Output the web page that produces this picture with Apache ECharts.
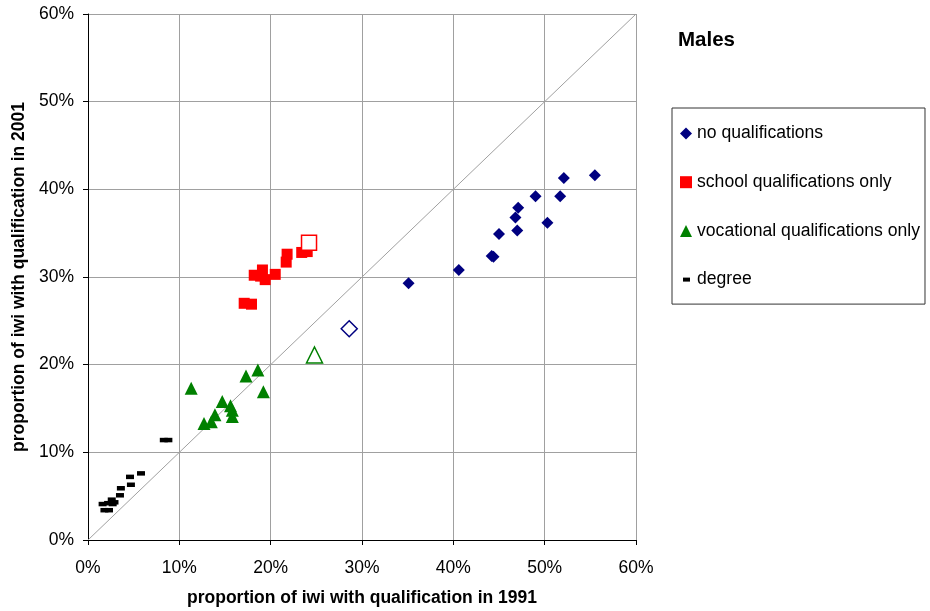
<!DOCTYPE html>
<html>
<head>
<meta charset="utf-8">
<script src="https://cdn.jsdelivr.net/npm/echarts@6/dist/echarts.min.js"></script>
<style>
  html, body { margin: 0; padding: 0; background: #fff; }
  #chart { width: 930px; height: 611px; }
</style>
</head>
<body>
<div id="chart"></div>
<script>
// Share of iwi holding each qualification, 1991 (x) vs 2001 (y), in percent
const seriesNames = ['no qualifications', 'school qualifications only', 'vocational qualifications only', 'degree'];

const noQual1991 = [35.1, 40.6, 44.4, 44.2, 45.0, 47.0, 46.8, 47.1, 49.0, 50.3, 51.7, 52.1, 55.5];
const noQual2001 = [29.3, 30.8, 32.3, 32.4, 34.9, 35.3, 36.8, 37.9, 39.2, 36.2, 39.2, 41.3, 41.6];
const noQualOverall = [28.6, 24.1];

const school1991 = [17.1, 17.9, 18.2, 19.1, 19.4, 20.5, 18.9, 21.8, 21.7, 23.4, 24.0];
const school2001 = [27.0, 26.9, 30.2, 30.8, 29.7, 30.3, 30.1, 32.6, 31.7, 32.8, 32.9];
const schoolOverall = [24.2, 33.9];

const voc1991 = [11.3, 17.3, 18.6, 19.2, 14.7, 15.6, 15.8, 15.8, 13.9, 13.5, 12.7];
const voc2001 = [17.3, 18.7, 19.4, 16.9, 15.8, 15.3, 14.8, 14.1, 14.3, 13.5, 13.3];
const vocOverall = [24.8, 21.1];

const degree1991 = [8.3, 8.8, 5.8, 4.6, 4.7, 3.6, 3.5, 2.6, 2.7, 1.6, 2.2, 2.9, 1.8, 2.3];
const degree2001 = [11.4, 11.4, 7.6, 7.2, 6.3, 5.9, 5.1, 4.6, 4.1, 4.1, 4.2, 4.3, 3.4, 3.4];

const axisTicks = [0, 10, 20, 30, 40, 50, 60];

const FONT = '"Liberation Sans", Arial, sans-serif';

function pairs(xs, ys) {
  return xs.map((x, i) => [x, ys[i]]);
}

// Overall point drawn as a larger hollow marker
function hollow(pt, color, size) {
  return {
    value: pt,
    symbolSize: size,
    itemStyle: { color: '#ffffff', borderColor: color, borderWidth: 1.5, opacity: 1 }
  };
}

const colors = ['#000080', '#ff0000', '#008000', '#000000'];

const chart = echarts.init(document.getElementById('chart'), null, { renderer: 'canvas' });

chart.setOption({
  animation: false,
  backgroundColor: '#ffffff',
  title: {
    text: 'Males',
    left: 673,
    top: 25,
    textStyle: { fontFamily: FONT, fontSize: 20.5, fontWeight: 'bold', color: '#000' }
  },
  grid: { left: 88, top: 14, width: 548, height: 526, containLabel: false, outerBoundsMode: 'none' },
  legend: {
    orient: 'vertical',
    left: 672,
    top: 108,
    selectedMode: false,
    backgroundColor: '#ffffff',
    borderColor: '#333333',
    borderWidth: 1,
    padding: [16.5, 5, 15.5, 8],
    itemWidth: 12,
    itemHeight: 12,
    itemGap: 30.7,
    textStyle: { fontFamily: FONT, fontSize: 17.6, color: '#000', lineHeight: 17 },
    data: [
      { name: seriesNames[0], icon: 'diamond' },
      { name: seriesNames[1], icon: 'rect' },
      { name: seriesNames[2], icon: 'triangle' },
      { name: seriesNames[3], icon: 'path://M0,0M12,12M3,4L10,4L10,8L3,8Z' }
    ]
  },
  xAxis: {
    type: 'value',
    min: axisTicks[0],
    max: axisTicks[axisTicks.length - 1],
    interval: 10,
    name: 'proportion of iwi with qualification in 1991',
    nameLocation: 'middle',
    nameGap: 49,
    nameTextStyle: { fontFamily: FONT, fontSize: 17.5, fontWeight: 'bold', color: '#000' },
    axisLine: { show: true, onZero: false, lineStyle: { color: '#000', width: 1 } },
    axisTick: { show: true, inside: false, length: 5, lineStyle: { color: '#000' } },
    axisLabel: { formatter: '{value}%', margin: 19, fontFamily: FONT, fontSize: 17.5, color: '#000' },
    splitLine: { show: true, lineStyle: { color: '#a0a0a0', width: 1 } }
  },
  yAxis: {
    type: 'value',
    min: axisTicks[0],
    max: axisTicks[axisTicks.length - 1],
    interval: 10,
    name: 'proportion of iwi with qualification in 2001',
    nameLocation: 'middle',
    nameGap: 57,
    nameTextStyle: { fontFamily: FONT, fontSize: 17.5, fontWeight: 'bold', color: '#000' },
    axisLine: { show: true, onZero: false, lineStyle: { color: '#000', width: 1 } },
    axisTick: { show: true, inside: false, length: 5, lineStyle: { color: '#000' } },
    axisLabel: { formatter: '{value}%', margin: 14, fontFamily: FONT, fontSize: 17.5, color: '#000' },
    splitLine: { show: true, lineStyle: { color: '#a0a0a0', width: 1 } }
  },
  series: [
    {
      // line of equal proportions
      name: 'equality',
      type: 'line',
      data: [[axisTicks[0], axisTicks[0]], [axisTicks[6], axisTicks[6]]],
      showSymbol: false,
      symbol: 'none',
      silent: true,
      z: 1,
      lineStyle: { color: '#a0a0a0', width: 1 }
    },
    {
      name: seriesNames[0],
      type: 'scatter',
      symbol: 'diamond',
      symbolSize: 12,
      z: 3,
      itemStyle: { color: colors[0], opacity: 1 },
      data: pairs(noQual1991, noQual2001).concat([hollow(noQualOverall, colors[0], 16)])
    },
    {
      name: seriesNames[1],
      type: 'scatter',
      symbol: 'rect',
      symbolSize: 11,
      z: 3,
      itemStyle: { color: colors[1], opacity: 1 },
      data: pairs(school1991, school2001).concat([hollow(schoolOverall, colors[1], 15)])
    },
    {
      name: seriesNames[2],
      type: 'scatter',
      symbol: 'triangle',
      symbolSize: 13,
      z: 3,
      itemStyle: { color: colors[2], opacity: 1 },
      data: pairs(voc1991, voc2001).concat([hollow(vocOverall, colors[2], 16)])
    },
    {
      name: seriesNames[3],
      type: 'scatter',
      symbol: 'rect',
      symbolSize: [8, 4.5],
      z: 3,
      itemStyle: { color: colors[3], opacity: 1 },
      data: pairs(degree1991, degree2001)
    }
  ]
});
</script>
</body>
</html>
